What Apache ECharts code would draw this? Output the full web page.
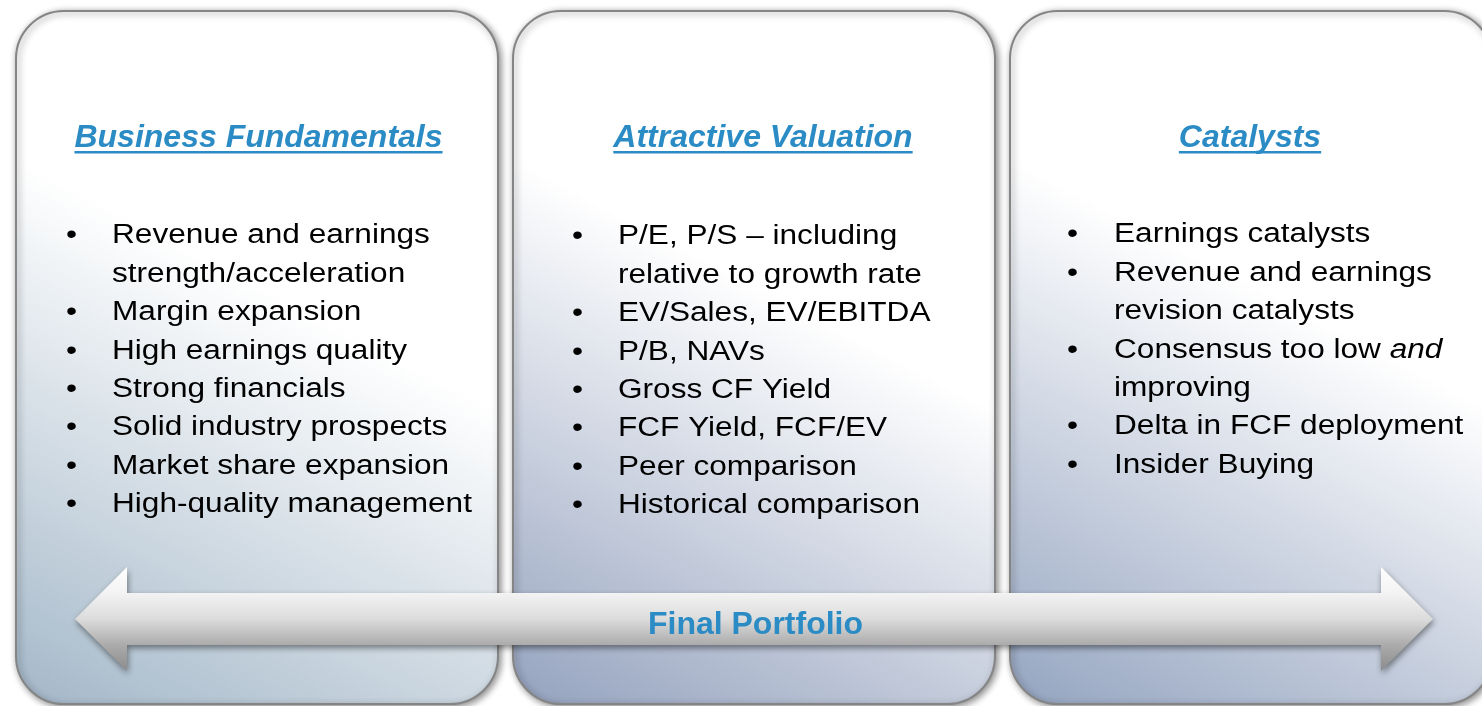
<!DOCTYPE html>
<html>
<head>
<meta charset="utf-8">
<script src="https://cdn.jsdelivr.net/npm/echarts@6/dist/echarts.min.js"></script>
<style>
html,body{margin:0;padding:0;background:#fff;}
#chart{width:1482px;height:706px;}
</style>
</head>
<body>
<div id="chart"></div>
<script>
// ---- content ----
const titles = ['Business Fundamentals', 'Attractive Valuation', 'Catalysts'];
const fundamentalsItems = [
  'Revenue and earnings\nstrength/acceleration',
  'Margin expansion',
  'High earnings quality',
  'Strong financials',
  'Solid industry prospects',
  'Market share expansion',
  'High-quality management'
];
const valuationItems = [
  'P/E, P/S \u2013 including\nrelative to growth rate',
  'EV/Sales, EV/EBITDA',
  'P/B, NAVs',
  'Gross CF Yield',
  'FCF Yield, FCF/EV',
  'Peer comparison',
  'Historical comparison'
];
const catalystItems = [
  'Earnings catalysts',
  'Revenue and earnings\nrevision catalysts',
  'Consensus too low {i|and}\nimproving',
  'Delta in FCF deployment',
  'Insider Buying'
];
const arrowLabel = 'Final Portfolio';

// ---- layout ----
const FONT = 'Arial, "Liberation Sans", sans-serif';
const BLUE = '#2b8bc5';
const panelX = [16, 513, 1010];
const panelBottoms = ['#a3b7c8', '#94a2be', '#94a4c0'];
const titleCX = [258.5, 763, 1250];
const bulletX = [66, 572, 1067];
const textX = [112, 618, 1114];
const firstLineY = [236, 237, 235];
const LINE_H = 38.4;
const BODY_SIZE = 27;
const BODY_SX = 1.17;
const columns = [fundamentalsItems, valuationItems, catalystItems];

const measureCtx = document.createElement('canvas').getContext('2d');
function textWidth(t, font) { measureCtx.font = font; return measureCtx.measureText(t).width; }

const elements = [];
// panels
panelX.forEach((x, i) => {
  elements.push({
    type: 'rect',
    shape: { x: x, y: 11, width: 482, height: 693, r: 48 },
    style: {
      fill: { type: 'linear', x: 0.75, y: 0, x2: 0, y2: 1, colorStops: [
        { offset: 0, color: '#ffffff' },
        { offset: 0.38, color: '#ffffff' },
        { offset: 1, color: panelBottoms[i] }
      ] },
      stroke: '#858585', lineWidth: 2,
      shadowBlur: 7, shadowColor: 'rgba(0,0,0,0.45)', shadowOffsetX: 2, shadowOffsetY: 2
    }
  });
});
// titles with underline
titles.forEach((t, i) => {
  const font = 'italic bold 32px ' + FONT;
  const w = textWidth(t, font);
  elements.push({
    type: 'text', x: titleCX[i], y: 138.5,
    style: { text: t, font: font, fill: BLUE, align: 'center', verticalAlign: 'middle' }
  });
  elements.push({
    type: 'rect',
    shape: { x: titleCX[i] - w / 2, y: 151, width: w, height: 2.5 },
    style: { fill: BLUE }
  });
});
// bullets
columns.forEach((items, c) => {
  let line = 0;
  items.forEach((item) => {
    const y = firstLineY[c] + line * LINE_H;
    elements.push({
      type: 'text', x: bulletX[c], y: y, scaleX: BODY_SX,
      style: { text: '\u2022', font: BODY_SIZE + 'px ' + FONT, fill: '#000', align: 'left', verticalAlign: 'middle' }
    });
    elements.push({
      type: 'text', x: textX[c], y: y - LINE_H / 2, scaleX: BODY_SX,
      style: {
        text: item, font: BODY_SIZE + 'px ' + FONT, fill: '#000', align: 'left', verticalAlign: 'top',
        lineHeight: LINE_H,
        rich: { i: { fontStyle: 'italic', fontSize: BODY_SIZE, fontFamily: FONT, lineHeight: LINE_H, fill: '#000' } }
      }
    });
    line += item.split('\n').length;
  });
});
// double arrow
const ax1 = 75, ax2 = 1433, hb1 = 127, hb2 = 1381, cy = 619;
elements.push({
  type: 'polygon',
  shape: { points: [
    [ax1, cy], [hb1, 567], [hb1, 593], [hb2, 593], [hb2, 567], [ax2, cy],
    [hb2, 671], [hb2, 645], [hb1, 645], [hb1, 671]
  ] },
  style: {
    fill: { type: 'linear', x: 0, y: 0, x2: 0, y2: 1, colorStops: [
      { offset: 0, color: '#ffffff' },
      { offset: 0.25, color: '#f3f3f3' },
      { offset: 0.5, color: '#dcdcdc' },
      { offset: 0.75, color: '#ababab' },
      { offset: 1, color: '#8c8c8c' }
    ] },
    shadowBlur: 6, shadowColor: 'rgba(0,0,0,0.45)', shadowOffsetX: 1, shadowOffsetY: 3
  }
});
elements.push({
  type: 'text', x: 755.5, y: 625,
  style: { text: arrowLabel, font: 'bold 32px ' + FONT, fill: BLUE, align: 'center', verticalAlign: 'middle' }
});

const chart = echarts.init(document.getElementById('chart'), null, { renderer: 'canvas' });
chart.setOption({
  backgroundColor: '#ffffff',
  animation: false,
  graphic: { elements: elements }
});
</script>
</body>
</html>
